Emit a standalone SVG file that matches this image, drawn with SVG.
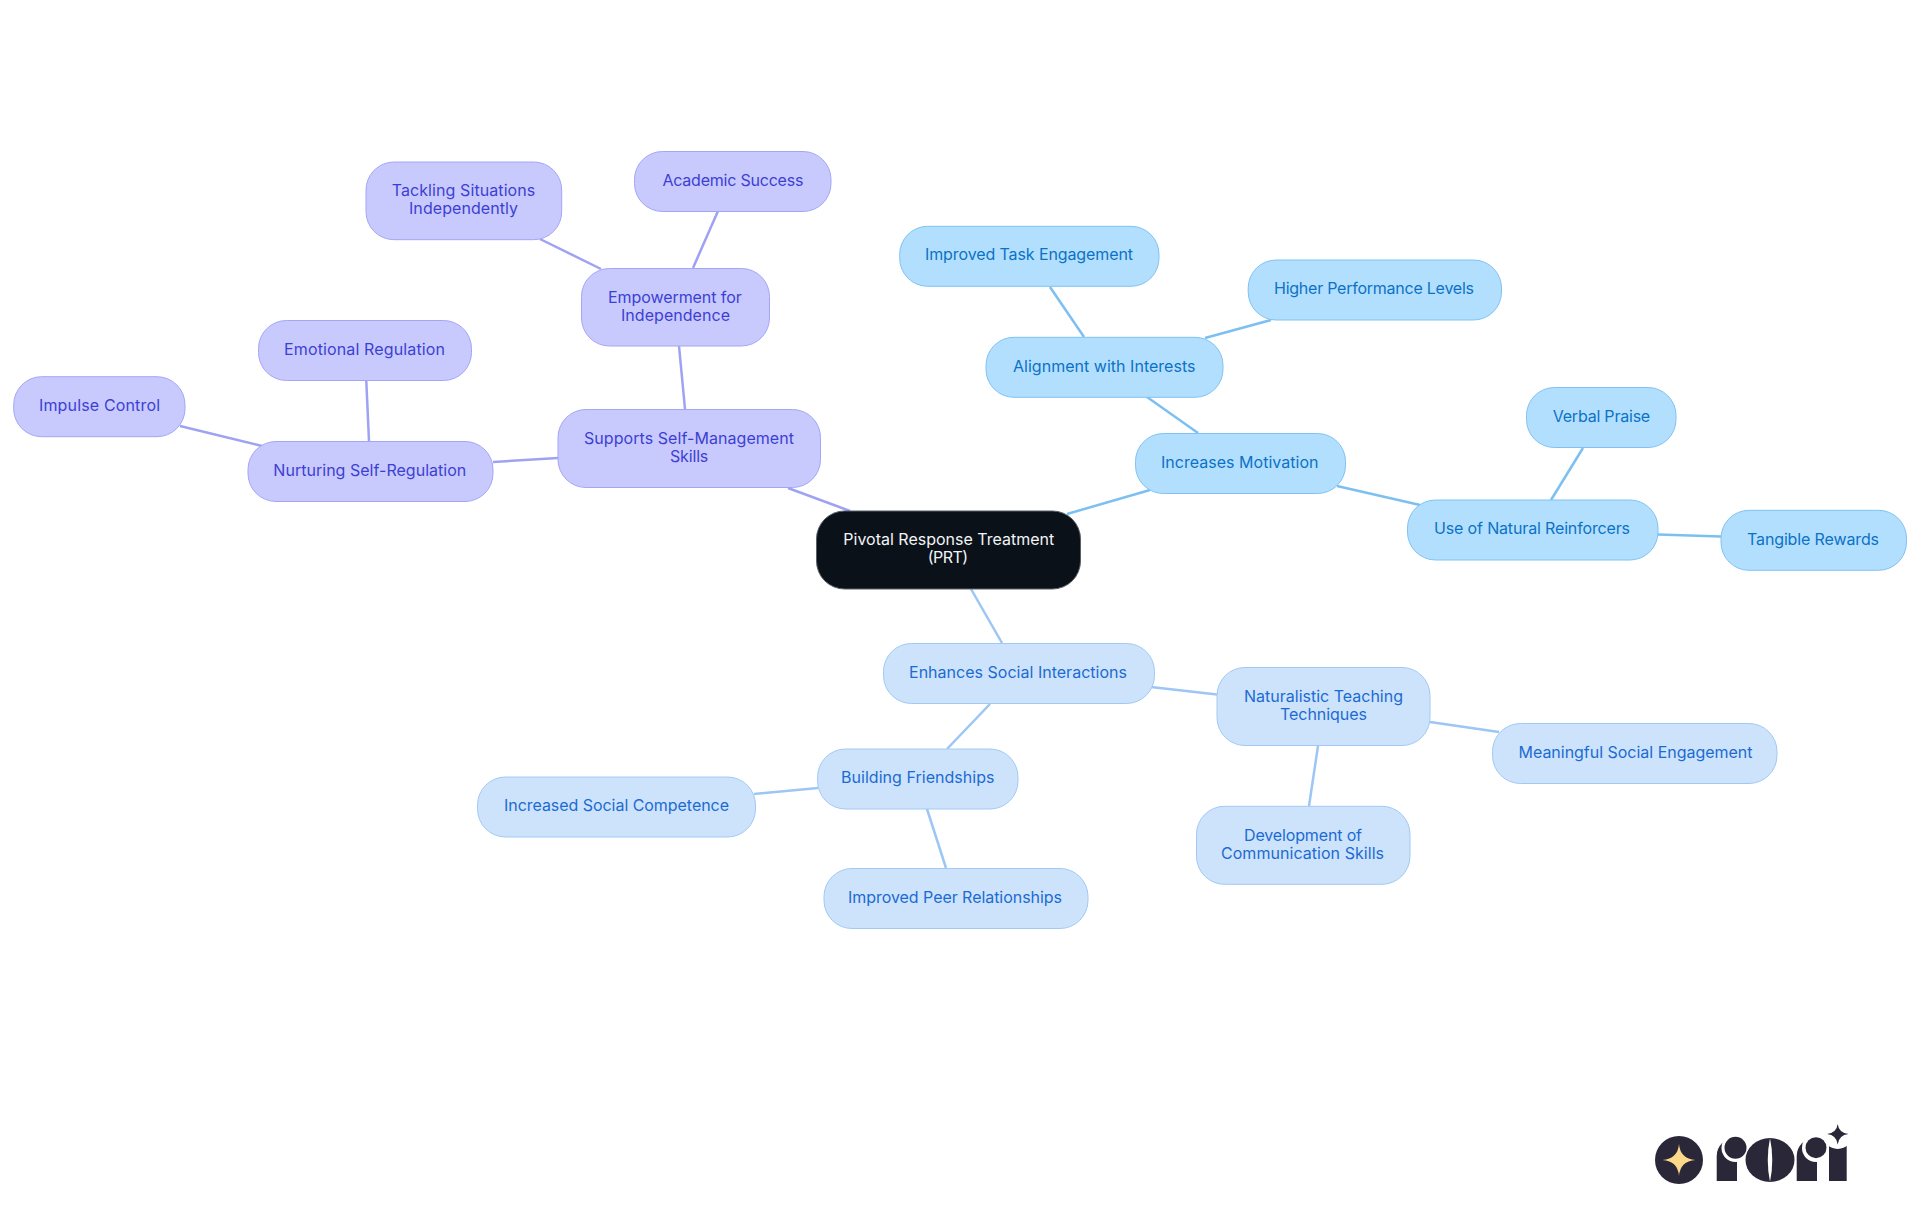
<svg xmlns="http://www.w3.org/2000/svg" width="1920" height="1215" viewBox="0 0 1920 1215">
<style>
text{font-family:"Inter","Noto Sans","Liberation Sans",sans-serif;font-size:16px}
rect{rx:28px;ry:28px;stroke-width:1}
line{stroke-width:2.5;stroke-linecap:butt}
.r rect{fill:#0a1119;stroke:#5a6068}.r text{fill:#f3f4f6}
.p rect{fill:#c8cafd;stroke:#a3a6f5}.p text{fill:#3d3fd4}
.s rect{fill:#b3dffe;stroke:#7fc2f3}.s text{fill:#0b72c6}
.b rect{fill:#cde3fc;stroke:#a1c9f4}.b text{fill:#1b6bd2}
.lp{stroke:#9fa2f3}.ls{stroke:#7cc0f2}.lb{stroke:#9cc6f3}
.d{fill:#2a2838}.w{fill:#fff}
</style>
<rect x="0" y="0" width="1920" height="1215" style="fill:#fff;stroke:none;rx:0;ry:0"/>
<g id="connectors">
<line class="lp" x1="788" y1="488" x2="850" y2="511"/>
<line class="lp" x1="679" y1="346" x2="685" y2="409"/>
<line class="lp" x1="540" y1="239" x2="601" y2="269"/>
<line class="lp" x1="718" y1="211" x2="693" y2="268"/>
<line class="lp" x1="493" y1="462" x2="558" y2="458"/>
<line class="lp" x1="180" y1="426" x2="262" y2="446"/>
<line class="lp" x1="366.3" y1="381" x2="369" y2="441"/>
<line class="ls" x1="1067" y1="514" x2="1150" y2="490"/>
<line class="ls" x1="1147" y1="397" x2="1198" y2="433"/>
<line class="ls" x1="1050" y1="287" x2="1084" y2="337"/>
<line class="ls" x1="1271" y1="320" x2="1205" y2="338"/>
<line class="ls" x1="1337" y1="486" x2="1420" y2="505"/>
<line class="ls" x1="1583" y1="448" x2="1551" y2="500"/>
<line class="ls" x1="1658" y1="534.5" x2="1721" y2="536.5"/>
<line class="lb" x1="971" y1="589" x2="1002" y2="643"/>
<line class="lb" x1="1151" y1="687" x2="1217" y2="694.5"/>
<line class="lb" x1="1430" y1="722" x2="1499" y2="732"/>
<line class="lb" x1="1318" y1="746" x2="1309" y2="806"/>
<line class="lb" x1="990" y1="704" x2="947" y2="749"/>
<line class="lb" x1="818" y1="788" x2="754" y2="794"/>
<line class="lb" x1="927" y1="809" x2="946" y2="868"/>
</g>
<g id="root" class="r"><rect x="816.5" y="511" width="264" height="78"/><text x="843.3" y="545" textLength="211">Pivotal Response Treatment</text><text x="927.7" y="562.700" textLength="40.5">(PRT)</text></g>
<g id="supports" class="p"><rect x="558" y="409.5" width="262.5" height="78"/><text x="584" y="444.3" textLength="210">Supports Self-Management</text><text x="670" y="462" textLength="38.3">Skills</text></g>
<g id="empowerment" class="p"><rect x="581.500" y="268.500" width="188" height="77.500"/><text x="608" y="303" textLength="133.7">Empowerment for</text><text x="621" y="320.500" textLength="109">Independence</text></g>
<g id="tackling" class="p"><rect x="366" y="162" width="195.700" height="77.700"/><text x="391.7" y="196" textLength="143.6">Tackling Situations</text><text x="409" y="214" textLength="109">Independently</text></g>
<g id="academic" class="p"><rect x="634.500" y="151.500" width="196.500" height="60"/><text x="662.400" y="185.500" textLength="141">Academic Success</text></g>
<g id="nurturing" class="p"><rect x="248" y="441.500" width="245" height="60"/><text x="273.300" y="476" textLength="193">Nurturing Self-Regulation</text></g>
<g id="emotional" class="p"><rect x="258.500" y="320.500" width="213" height="60"/><text x="284" y="355" textLength="161">Emotional Regulation</text></g>
<g id="impulse" class="p"><rect x="13.700" y="376.700" width="171.300" height="60"/><text x="39" y="411" textLength="121">Impulse Control</text></g>
<g id="motivation" class="s"><rect x="1135.500" y="433.500" width="210" height="60"/><text x="1161" y="468" textLength="157.500">Increases Motivation</text></g>
<g id="alignment" class="s"><rect x="986" y="337.300" width="237" height="60"/><text x="1013" y="372" textLength="182.500">Alignment with Interests</text></g>
<g id="task" class="s"><rect x="899.700" y="226.300" width="259.300" height="60"/><text x="925" y="260" textLength="208">Improved Task Engagement</text></g>
<g id="performance" class="s"><rect x="1248.200" y="260" width="253.300" height="60"/><text x="1274" y="294" textLength="200">Higher Performance Levels</text></g>
<g id="reinforcers" class="s"><rect x="1407.500" y="500" width="250.500" height="60"/><text x="1434" y="534" textLength="196">Use of Natural Reinforcers</text></g>
<g id="verbal" class="s"><rect x="1526.500" y="387.500" width="149.500" height="60"/><text x="1552.700" y="421.700" textLength="97.500">Verbal Praise</text></g>
<g id="tangible" class="s"><rect x="1721" y="510.300" width="185.500" height="60"/><text x="1747" y="545" textLength="132">Tangible Rewards</text></g>
<g id="social" class="b"><rect x="883.500" y="643.500" width="271" height="60"/><text x="909" y="678" textLength="218">Enhances Social Interactions</text></g>
<g id="naturalistic" class="b"><rect x="1217" y="667.500" width="213" height="78"/><text x="1244" y="702.300" textLength="159">Naturalistic Teaching</text><text x="1280" y="720" textLength="87">Techniques</text></g>
<g id="meaningful" class="b"><rect x="1492.500" y="723.500" width="284.500" height="60"/><text x="1518.500" y="758.300" textLength="234">Meaningful Social Engagement</text></g>
<g id="development" class="b"><rect x="1196.500" y="806.300" width="213.500" height="78"/><text x="1244" y="841.300" textLength="118">Development of</text><text x="1221" y="859" textLength="163">Communication Skills</text></g>
<g id="friendships" class="b"><rect x="817.600" y="749" width="200.400" height="60"/><text x="841" y="783" textLength="153.500">Building Friendships</text></g>
<g id="competence" class="b"><rect x="477.500" y="777" width="278" height="60"/><text x="504" y="811" textLength="225">Increased Social Competence</text></g>
<g id="peer" class="b"><rect x="824" y="868.500" width="264" height="60"/><text x="848" y="903.300" textLength="214">Improved Peer Relationships</text></g>
<g id="logo">
<circle class="d" cx="1679" cy="1160" r="24"/>
<path d="M1679 1144Q1680.200 1158.800 1695.500 1160Q1680.200 1161.200 1679 1176Q1677.800 1161.200 1662.500 1160Q1677.800 1158.800 1679 1144Z" fill="#fcd88a"/>
<path class="d" d="M1716.700 1181V1156A18 18 0 0 1 1734.700 1138H1737V1181Z"/>
<circle class="w" cx="1735.500" cy="1148" r="14"/>
<rect class="w" x="1737" y="1134" width="12" height="30" style="rx:0;ry:0;stroke:none"/>
<circle class="d" cx="1735.500" cy="1147.700" r="11"/>
<ellipse class="d" cx="1770" cy="1160" rx="24.500" ry="22"/>
<path class="w" d="M1770 1138Q1774.500 1160 1770 1182Q1765.500 1160 1770 1138Z"/>
<path class="d" d="M1796.700 1181V1156A18 18 0 0 1 1814.700 1138H1817V1181Z"/>
<circle class="w" cx="1816" cy="1148" r="14"/>
<rect class="w" x="1817" y="1134" width="12" height="30" style="rx:0;ry:0;stroke:none"/>
<circle class="d" cx="1816" cy="1147.700" r="10.500"/>
<rect class="d" x="1829" y="1145" width="17.700" height="36" style="rx:0;ry:0;stroke:none"/>
<circle class="w" cx="1837.700" cy="1134" r="15"/>
<path class="d" d="M1837.700 1124Q1838.800 1132.900 1848.500 1134Q1838.800 1135.100 1837.700 1144.500Q1836.600 1135.100 1827 1134Q1836.600 1132.900 1837.700 1124Z"/>
</g>
</svg>
